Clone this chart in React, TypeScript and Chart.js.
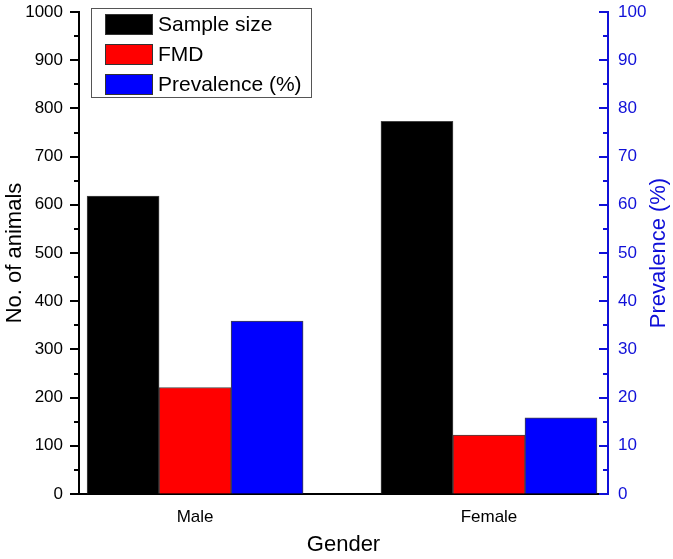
import React, { useEffect, useRef } from "react";
import { Chart, registerables } from "chart.js";

Chart.register(...registerables);

const categories = ["Male", "Female"];
const categoryPositions = [1, 2];
const sampleSize = [618, 773];
const fmd = [221, 122];
const prevalence = [35.9, 15.8];
const seriesLabels = ["Sample size", "FMD", "Prevalence (%)"];
const seriesColors = ["#000000", "#ff0000", "#0000ff"];
const leftTicks = [0, 100, 200, 300, 400, 500, 600, 700, 800, 900, 1000];
const rightTicks = [0, 10, 20, 30, 40, 50, 60, 70, 80, 90, 100];

const FONT = "'Liberation Sans', Arial, Helvetica, sans-serif";
const BLUE = "#1010d8";

const ticksPlugin = {
  id: "customTicks",
  afterDraw(chart: any) {
    const ctx = chart.ctx;
    const y = chart.scales.y;
    const y1 = chart.scales.y1;
    const area = chart.chartArea;
    ctx.save();
    ctx.lineWidth = 2;
    ctx.strokeStyle = "#000";
    for (let v = 0; v <= 1000; v += 50) {
      const p = Math.round(y.getPixelForValue(v));
      const len = v % 100 === 0 ? 9 : 5;
      ctx.beginPath();
      ctx.moveTo(area.left - len, p);
      ctx.lineTo(area.left, p);
      ctx.stroke();
    }
    ctx.strokeStyle = BLUE;
    for (let v = 0; v <= 100; v += 5) {
      const p = Math.round(y1.getPixelForValue(v));
      const len = v % 10 === 0 ? 9 : 5;
      ctx.beginPath();
      ctx.moveTo(area.right - len, p);
      ctx.lineTo(area.right, p);
      ctx.stroke();
    }
    ctx.fillStyle = BLUE;
    ctx.font = `22px ${FONT}`;
    ctx.textAlign = "center";
    ctx.textBaseline = "middle";
    ctx.translate(659, (area.top + area.bottom) / 2);
    ctx.rotate(-Math.PI / 2);
    ctx.fillText("Prevalence (%)", 0, 0);
    ctx.restore();

    ctx.save();
    const bx = 91.5, by = 8.5, bw = 220, bh = 89;
    ctx.strokeStyle = "#555";
    ctx.lineWidth = 1;
    ctx.strokeRect(bx, by, bw, bh);
    chart.data.datasets.forEach((ds: any, i: number) => {
      const sy = 14 + i * 30;
      ctx.fillStyle = ds.backgroundColor;
      ctx.fillRect(105, sy, 48, 21);
      ctx.strokeStyle = "#333";
      ctx.strokeRect(105.5, sy + 0.5, 47, 20);
      ctx.fillStyle = "#000";
      ctx.font = `21px ${FONT}`;
      ctx.textAlign = "left";
      ctx.textBaseline = "middle";
      ctx.fillText(ds.label, 158, sy + 11);
    });
    ctx.restore();
  },
};

const zeroPad = (s: any) => {
  s.paddingTop = 0;
  s.paddingBottom = 0;
};

export default function App() {
  const ref = useRef<HTMLCanvasElement>(null);
  useEffect(() => {
    if (!ref.current) return;
    const mk = (vals: number[]) =>
      vals.map((v, i) => ({ x: categoryPositions[i], y: v }));
    const chart = new Chart(ref.current, {
      type: "bar",
      data: {
        datasets: [
          {
            label: seriesLabels[0],
            data: mk(sampleSize),
            backgroundColor: seriesColors[0],
            borderColor: "#444",
            borderWidth: 1,
            yAxisID: "y",
          },
          {
            label: seriesLabels[1],
            data: mk(fmd),
            backgroundColor: seriesColors[1],
            borderColor: "#444",
            borderWidth: 1,
            yAxisID: "y",
          },
          {
            label: seriesLabels[2],
            data: mk(prevalence),
            backgroundColor: seriesColors[2],
            borderColor: "#444",
            borderWidth: 1,
            yAxisID: "y1",
          },
        ],
      },
      options: {
        responsive: false,
        animation: false,
        barThickness: 72,
        layout: { padding: { top: 12, left: 0, right: 0, bottom: 0 } },
        plugins: { legend: { display: false }, tooltip: { enabled: false } },
        scales: {
          x: {
            type: "linear",
            offset: false,
            bounds: "data",
            min: 0.605,
            max: 2.405,
            afterBuildTicks: (s: any) => {
              s.ticks = categoryPositions.map((v) => ({ value: v }));
            },
            afterFit: (s: any) => {
              s.height = 65;
              s.paddingLeft = 0;
              s.paddingRight = 0;
            },
            grid: { display: true, offset: false, drawOnChartArea: false, drawTicks: false },
            border: { display: true, color: "#000", width: 2 },
            ticks: {
              color: "#000",
              font: { family: FONT, size: 17 },
              padding: 13,
              maxRotation: 0,
              autoSkip: false,
              callback: (v: any) => {
                const i = categoryPositions.indexOf(Number(v));
                return i >= 0 ? categories[i] : "";
              },
            },
            title: {
              display: true,
              text: "Gender",
              color: "#000",
              font: { family: FONT, size: 22 },
              padding: { top: 0, bottom: 1 },
            },
          },
          y: {
            position: "left",
            min: 0,
            max: 1000,
            afterBuildTicks: (s: any) => {
              s.ticks = leftTicks.map((v) => ({ value: v }));
            },
            afterFit: (s: any) => {
              s.width = 79;
              zeroPad(s);
            },
            grid: { display: true, drawOnChartArea: false, drawTicks: false },
            border: { display: true, color: "#000", width: 2 },
            ticks: {
              color: "#000",
              font: { family: FONT, size: 17 },
              padding: 16,
              callback: (v: any) => String(v),
            },
            title: {
              display: true,
              text: "No. of animals",
              color: "#000",
              font: { family: FONT, size: 22 },
              padding: { top: 2, bottom: 0 },
            },
          },
          y1: {
            position: "right",
            min: 0,
            max: 100,
            afterBuildTicks: (s: any) => {
              s.ticks = rightTicks.map((v) => ({ value: v }));
            },
            afterFit: (s: any) => {
              s.width = 65;
              zeroPad(s);
            },
            grid: { display: true, drawOnChartArea: false, drawTicks: false },
            border: { display: true, color: BLUE, width: 2 },
            ticks: {
              color: BLUE,
              font: { family: FONT, size: 17 },
              padding: 10,
              callback: (v: any) => String(v),
            },
          },
        },
      } as any,
      plugins: [ticksPlugin],
    });
    return () => chart.destroy();
  }, []);
  return (
    <div style={{ position: "fixed", left: 0, top: 0, width: 673, height: 559, background: "#fff" }}>
      <canvas ref={ref} width={673} height={559} />
    </div>
  );
}
